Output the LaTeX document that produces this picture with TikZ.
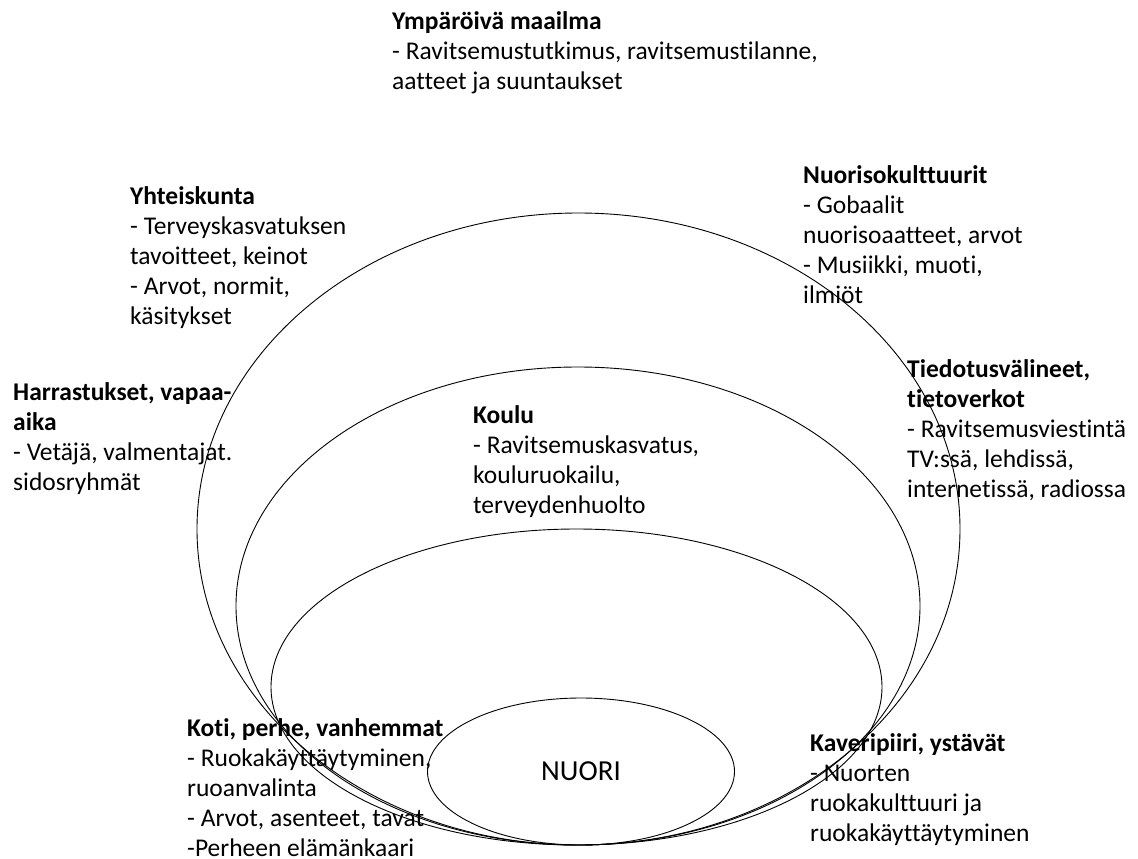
\documentclass[tikz,border=0pt]{standalone}
\usepackage{fontspec}
\setmainfont{Carlito}[Ligatures=NoCommon]
\usetikzlibrary{shapes.geometric}
\tikzset{
  ring/.style={draw, ellipse, line width=0.9pt, inner sep=0pt},
  txt/.style={anchor=north west, align=left, inner sep=0pt, font=\fontsize{25.5}{30}\selectfont},
}
\begin{document}
\begin{tikzpicture}[x=1pt,y=-1pt]
\useasboundingbox (0,0) rectangle (1138,859);

\node[ring, minimum width=763pt, minimum height=632pt] (ulko) at (578.5,529) {};
\node[ring, minimum width=684pt, minimum height=478pt] (keski) at (578,606) {};
\node[ring, minimum width=611pt, minimum height=316pt] (sisa) at (576.5,687) {};
\node[ring, minimum width=307pt, minimum height=147pt, font=\fontsize{29}{34}\selectfont] (nuori) at (581,771.5) {NUORI};

\node[txt] (ymparisto) at (392,11) {\textbf{Ympäröivä maailma}\\- Ravitsemustutkimus, ravitsemustilanne,\\aatteet ja suuntaukset};
\node[txt] (yhteiskunta) at (130,186) {\textbf{Yhteiskunta}\\- Terveyskasvatuksen\\tavoitteet, keinot\\- Arvot, normit,\\käsitykset};
\node[txt] (nuorisok) at (803,165) {\textbf{Nuorisokulttuurit}\\- Gobaalit\\nuorisoaatteet, arvot\\- Musiikki, muoti,\\ilmiöt};
\node[txt] (harrastus) at (13,382) {\textbf{Harrastukset, vapaa-}\\\textbf{aika}\\- Vetäjä, valmentajat.\\sidosryhmät};
\node[txt] (tiedotus) at (907,359) {\textbf{Tiedotusvälineet,}\\\textbf{tietoverkot}\\- Ravitsemusviestintä\\TV:ssä, lehdissä,\\internetissä, radiossa};
\node[txt] (koulu) at (473,405) {\textbf{Koulu}\\- Ravitsemuskasvatus,\\kouluruokailu,\\terveydenhuolto};
\node[txt] (koti) at (187,718) {\textbf{Koti, perhe, vanhemmat}\\- Ruokakäyttäytyminen,\\ruoanvalinta\\- Arvot, asenteet, tavat\\-Perheen elämänkaari};
\node[txt] (kaverit) at (810,733) {\textbf{Kaveripiiri, ystävät}\\- Nuorten\\ruokakulttuuri ja\\ruokakäyttäytyminen};
\end{tikzpicture}
\end{document}
